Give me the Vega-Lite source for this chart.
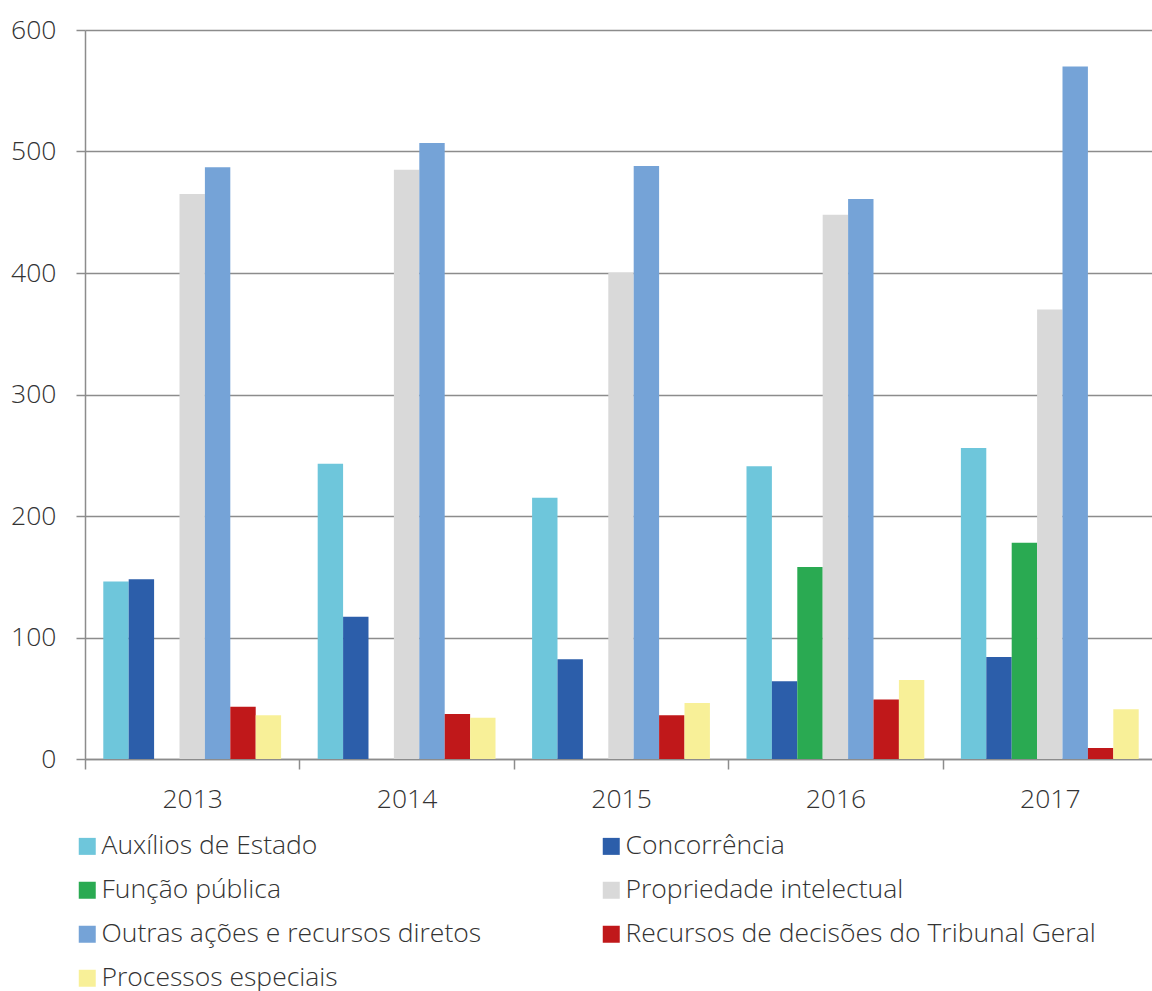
{
  "$schema": "https://vega.github.io/schema/vega-lite/v6.json",
  "width": 1067,
  "height": 729,
  "autosize": "none",
  "padding": {"left": 85, "top": 30, "right": 0, "bottom": 232},
  "config": {"view": {"stroke": null}, "font": "Open Sans"},
  "data": {"values": [
    {"ano": "2013", "tipo": "Auxílios de Estado", "n": 146},
    {"ano": "2013", "tipo": "Concorrência", "n": 148},
    {"ano": "2013", "tipo": "Função pública", "n": 0},
    {"ano": "2013", "tipo": "Propriedade intelectual", "n": 465},
    {"ano": "2013", "tipo": "Outras ações e recursos diretos", "n": 487},
    {"ano": "2013", "tipo": "Recursos de decisões do Tribunal Geral", "n": 43},
    {"ano": "2013", "tipo": "Processos especiais", "n": 36},
    {"ano": "2014", "tipo": "Auxílios de Estado", "n": 243},
    {"ano": "2014", "tipo": "Concorrência", "n": 117},
    {"ano": "2014", "tipo": "Função pública", "n": 0},
    {"ano": "2014", "tipo": "Propriedade intelectual", "n": 485},
    {"ano": "2014", "tipo": "Outras ações e recursos diretos", "n": 507},
    {"ano": "2014", "tipo": "Recursos de decisões do Tribunal Geral", "n": 37},
    {"ano": "2014", "tipo": "Processos especiais", "n": 34},
    {"ano": "2015", "tipo": "Auxílios de Estado", "n": 215},
    {"ano": "2015", "tipo": "Concorrência", "n": 82},
    {"ano": "2015", "tipo": "Função pública", "n": 0},
    {"ano": "2015", "tipo": "Propriedade intelectual", "n": 400},
    {"ano": "2015", "tipo": "Outras ações e recursos diretos", "n": 488},
    {"ano": "2015", "tipo": "Recursos de decisões do Tribunal Geral", "n": 36},
    {"ano": "2015", "tipo": "Processos especiais", "n": 46},
    {"ano": "2016", "tipo": "Auxílios de Estado", "n": 241},
    {"ano": "2016", "tipo": "Concorrência", "n": 64},
    {"ano": "2016", "tipo": "Função pública", "n": 158},
    {"ano": "2016", "tipo": "Propriedade intelectual", "n": 448},
    {"ano": "2016", "tipo": "Outras ações e recursos diretos", "n": 461},
    {"ano": "2016", "tipo": "Recursos de decisões do Tribunal Geral", "n": 49},
    {"ano": "2016", "tipo": "Processos especiais", "n": 65},
    {"ano": "2017", "tipo": "Auxílios de Estado", "n": 256},
    {"ano": "2017", "tipo": "Concorrência", "n": 84},
    {"ano": "2017", "tipo": "Função pública", "n": 178},
    {"ano": "2017", "tipo": "Propriedade intelectual", "n": 370},
    {"ano": "2017", "tipo": "Outras ações e recursos diretos", "n": 570},
    {"ano": "2017", "tipo": "Recursos de decisões do Tribunal Geral", "n": 9},
    {"ano": "2017", "tipo": "Processos especiais", "n": 41}
  ]},
  "mark": {"type": "bar"},
  "encoding": {
    "x": {
      "field": "ano", "type": "nominal",
      "scale": {"paddingInner": 0, "paddingOuter": 0, "range": [0, 1072]},
      "axis": {
        "title": null, "labelAngle": 0, "tickBand": "extent",
        "domainColor": "#8c8c8c", "domainWidth": 1.5,
        "tickColor": "#8c8c8c", "tickWidth": 1.5, "tickSize": 10,
        "labelFontSize": 26.5, "labelFontWeight": 300, "labelColor": "#333333", "labelPadding": 17,
        "grid": false
      }
    },
    "xOffset": {
      "field": "tipo", "type": "nominal",
      "sort": ["Auxílios de Estado", "Concorrência", "Função pública", "Propriedade intelectual", "Outras ações e recursos diretos", "Recursos de decisões do Tribunal Geral", "Processos especiais"],
      "scale": {"paddingInner": 0, "paddingOuter": 0.72}
    },
    "y": {
      "field": "n", "type": "quantitative",
      "scale": {"domain": [0, 600], "nice": false},
      "axis": {
        "title": null, "values": [0, 100, 200, 300, 400, 500, 600],
        "gridColor": "#8c8c8c", "gridWidth": 1.5,
        "domainColor": "#8c8c8c", "domainWidth": 1.5,
        "tickColor": "#8c8c8c", "tickWidth": 1.5, "tickSize": 9,
        "labelFontSize": 26.5, "labelFontWeight": 300, "labelColor": "#333333", "labelPadding": 20
      }
    },
    "color": {
      "field": "tipo", "type": "nominal",
      "scale": {
        "domain": ["Auxílios de Estado", "Função pública", "Outras ações e recursos diretos", "Processos especiais", "Concorrência", "Propriedade intelectual", "Recursos de decisões do Tribunal Geral"],
        "range": ["#6EC6DB", "#2AAA52", "#75A3D7", "#F8F098", "#2C5EAA", "#D9D9D9", "#C0181A"]
      },
      "legend": {
        "title": null, "orient": "none", "legendX": -11, "legendY": 803,
        "columns": 2, "columnPadding": 116, "rowPadding": 17,
        "symbolType": "square", "symbolSize": 289, "symbolStrokeWidth": 0,
        "labelFontSize": 26.5, "labelFontWeight": 300, "labelColor": "#333333",
        "labelOffset": 1, "labelLimit": 0
      }
    }
  }
}
